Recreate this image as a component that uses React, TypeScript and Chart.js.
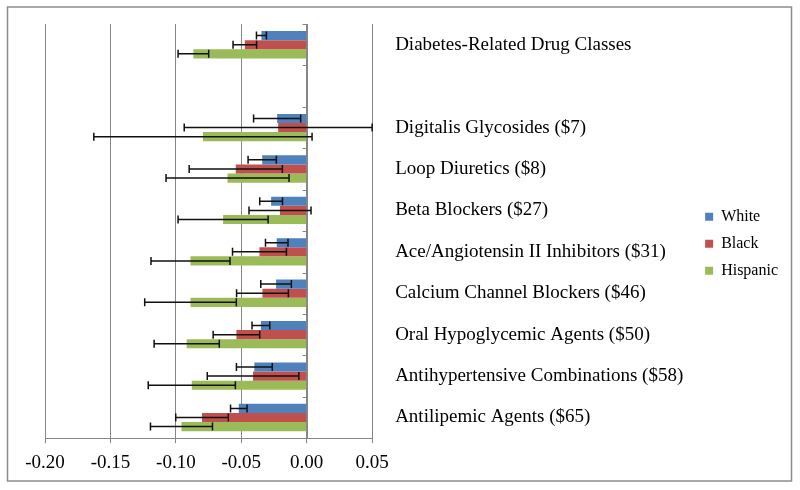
import React, { useEffect, useRef } from "react";
import { Chart, registerables } from "chart.js";

Chart.register(...registerables);

const categories = [
  "Diabetes-Related Drug Classes",
  "",
  "Digitalis Glycosides ($7)",
  "Loop Diuretics ($8)",
  "Beta Blockers ($27)",
  "Ace/Angiotensin II Inhibitors ($31)",
  "Calcium Channel Blockers ($46)",
  "Oral Hypoglycemic Agents ($50)",
  "Antihypertensive Combinations ($58)",
  "Antilipemic Agents ($65)",
];

const whiteValues = [-0.0346, null, -0.0226, -0.034, -0.0272, -0.0229, -0.0234, -0.035, -0.040, -0.0519];
const whiteErrors = [0.0038, null, 0.018, 0.0108, 0.0087, 0.0086, 0.0117, 0.0068, 0.0137, 0.0063];
const blackValues = [-0.0473, null, -0.0218, -0.0542, -0.0204, -0.0361, -0.0338, -0.0537, -0.041, -0.080];
const blackErrors = [0.0090, null, 0.0718, 0.0356, 0.0237, 0.0206, 0.0198, 0.0178, 0.035, 0.0201];
const hispanicValues = [-0.0866, null, -0.0793, -0.0605, -0.0639, -0.0888, -0.0888, -0.0917, -0.0878, -0.0957];
const hispanicErrors = [0.0117, null, 0.0834, 0.047, 0.0344, 0.0302, 0.035, 0.0249, 0.0333, 0.0237];

const seriesNames = ["White", "Black", "Hispanic"];
const seriesColors = ["#4F81BD", "#C0504D", "#9BBB59"];

const xMin = -0.2;
const xMax = 0.05;
const xStep = 0.05;

const errorSets = [whiteErrors, blackErrors, hispanicErrors];

const errorBarPlugin = {
  id: "errorBars",
  afterDatasetsDraw(chart: any) {
    const ctx = chart.ctx;
    const xs = chart.scales.x;
    ctx.save();
    ctx.strokeStyle = "#111111";
    ctx.lineWidth = 1.5;
    chart.data.datasets.forEach((ds: any, di: number) => {
      const meta = chart.getDatasetMeta(di);
      meta.data.forEach((el: any, i: number) => {
        const v = ds.data[i];
        const e = errorSets[di][i];
        if (v == null || e == null) return;
        const x1 = xs.getPixelForValue(v - e);
        const x2 = xs.getPixelForValue(v + e);
        const y = el.y;
        const cap = 4;
        ctx.beginPath();
        ctx.moveTo(x1, y);
        ctx.lineTo(x2, y);
        ctx.moveTo(x1, y - cap);
        ctx.lineTo(x1, y + cap);
        ctx.moveTo(x2, y - cap);
        ctx.lineTo(x2, y + cap);
        ctx.stroke();
      });
    });
    ctx.restore();
  },
};

const zeroAxisPlugin = {
  id: "zeroAxis",
  afterDatasetsDraw(chart: any) {
    const ctx = chart.ctx;
    const xs = chart.scales.x;
    const ys = chart.scales.y;
    const x0 = Math.round(xs.getPixelForValue(0)) + 0.5;
    const n = categories.length;
    ctx.save();
    ctx.strokeStyle = "#868686";
    ctx.lineWidth = 1;
    ctx.beginPath();
    ctx.moveTo(x0, ys.top);
    ctx.lineTo(x0, ys.bottom);
    for (let i = 0; i <= n; i++) {
      const y = Math.round(ys.top + (i * (ys.bottom - ys.top)) / n) + 0.5;
      ctx.moveTo(x0 - 5, y);
      ctx.lineTo(x0, y);
    }
    ctx.stroke();
    ctx.restore();
  },
};

const framePlugin = {
  id: "frame",
  beforeDraw(chart: any) {
    const ctx = chart.ctx;
    ctx.save();
    ctx.fillStyle = "#ffffff";
    ctx.fillRect(0, 0, chart.width, chart.height);
    ctx.strokeStyle = "#8c8c8c";
    ctx.lineWidth = 1.5;
    ctx.strokeRect(7.5, 7, chart.width - 16, chart.height - 16);
    ctx.restore();
  },
};

export default function App() {
  const ref = useRef<HTMLCanvasElement>(null);

  useEffect(() => {
    if (!ref.current) return;
    Chart.defaults.font.family = "'Liberation Serif', 'Times New Roman', serif";
    Chart.defaults.color = "#000000";
    const chart = new Chart(ref.current, {
      type: "bar",
      data: {
        labels: categories,
        datasets: [whiteValues, blackValues, hispanicValues].map((vals, i) => ({
          label: seriesNames[i],
          data: vals,
          backgroundColor: seriesColors[i],
          borderWidth: 0,
          categoryPercentage: 0.66,
          barPercentage: 1.0,
        })),
      },
      options: {
        indexAxis: "y",
        animation: false,
        responsive: false,
        maintainAspectRatio: false,
        layout: { padding: { left: 45, top: 24, right: 12, bottom: 8 } },
        scales: {
          x: {
            type: "linear",
            min: xMin,
            max: xMax,
            ticks: {
              stepSize: xStep,
              font: { size: 19 },
              color: "#000",
              padding: 8,
              callback: (v: any) => Number(v).toFixed(2),
            },
            grid: {
              color: "#868686",
              lineWidth: 1,
              drawTicks: true,
              tickLength: 5,
            },
            border: { display: true, color: "#868686" },
          },
          y: {
            type: "category",
            position: "right",
            offset: true,
            grid: { display: false, drawTicks: true, tickLength: 23 },
            border: { display: false },
            ticks: {
              autoSkip: false,
              font: { size: 19 },
              color: "#000",
              padding: 0,
            },
            afterFit: (scale: any) => {
              scale.width = 322;
            },
          },
        },
        plugins: {
          legend: {
            position: "right",
            fullSize: false,
            title: { display: true, text: "", font: { size: 16 }, padding: { top: 2, bottom: 4 } },
            labels: {
              boxWidth: 8,
              boxHeight: 8,
              padding: 11,
              font: { size: 16 },
              color: "#000",
            },
          },
          tooltip: { enabled: false },
        },
      },
      plugins: [framePlugin, zeroAxisPlugin, errorBarPlugin],
    });
    return () => chart.destroy();
  }, []);

  return (
    <div style={{ position: "absolute", left: 0, top: 0, width: 800, height: 490 }}>
      <canvas ref={ref} width={800} height={490} style={{ width: 800, height: 490 }} />
    </div>
  );
}
